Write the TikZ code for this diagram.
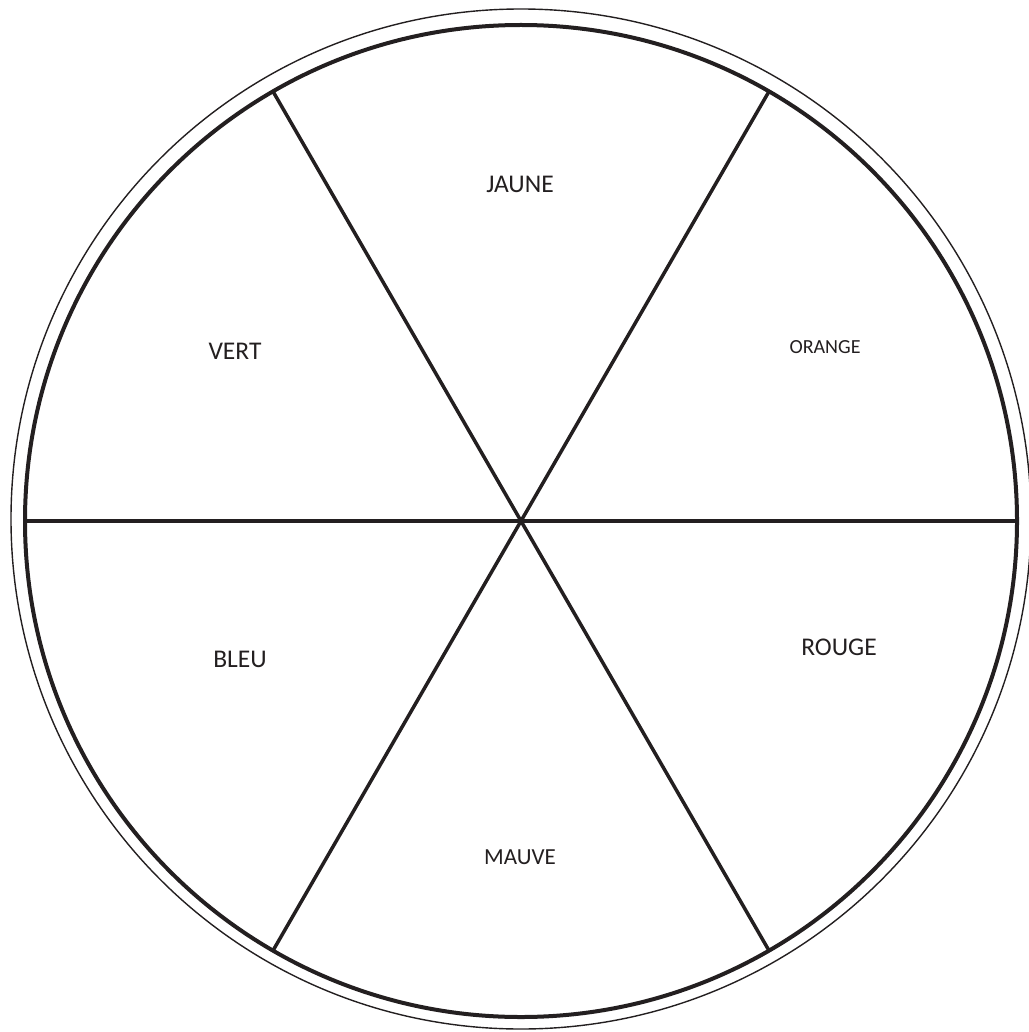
\documentclass[tikz,border=0pt]{standalone}
\usepackage{fontspec}
\setmainfont{Carlito}
\usepackage{xcolor}
\definecolor{ink}{HTML}{231F20}
\usepackage{tikz}
\usetikzlibrary{positioning}

\begin{document}
\begin{tikzpicture}[
    x=1pt, y=-1pt,
    ring/.style={
        draw=ink,
        circle,
        inner sep=0pt,
        outer sep=0pt
    },
    spoke/.style={draw=ink, line width=3.5pt},
    lbl/.style={
        text=ink,
        inner sep=0pt,
        font=\fontsize{25.5}{25.5}\selectfont
    },
    lblsmall/.style={
        lbl,
        font=\fontsize{20}{20}\selectfont
    }
]
\useasboundingbox (0,0) rectangle (1028,1032);

% rings
\coordinate (hub) at (521,521);
\node[ring, line width=1.4pt, minimum size=1020pt] (outer) at (521,519) {};
\node[ring, line width=4pt, minimum size=992pt] (rim) at (hub) {};

% spokes
\foreach \a in {0,60,...,300}
    \draw[spoke] (hub) -- (rim.\a);

% labels
\node[lbl] (jaune) at (520,184) {JAUNE};
\node[lbl] (vert) at (235,351) {VERT};
\node[lblsmall] (orange) at (825,347) {ORANGE};
\node[lbl] (bleu) at (240,659) {BLEU};
\node[lbl] (rouge) at (839,647) {ROUGE};
\node[lbl, font=\fontsize{23}{23}\selectfont] (mauve) at (520,857) {MAUVE};

\end{tikzpicture}
\end{document}
